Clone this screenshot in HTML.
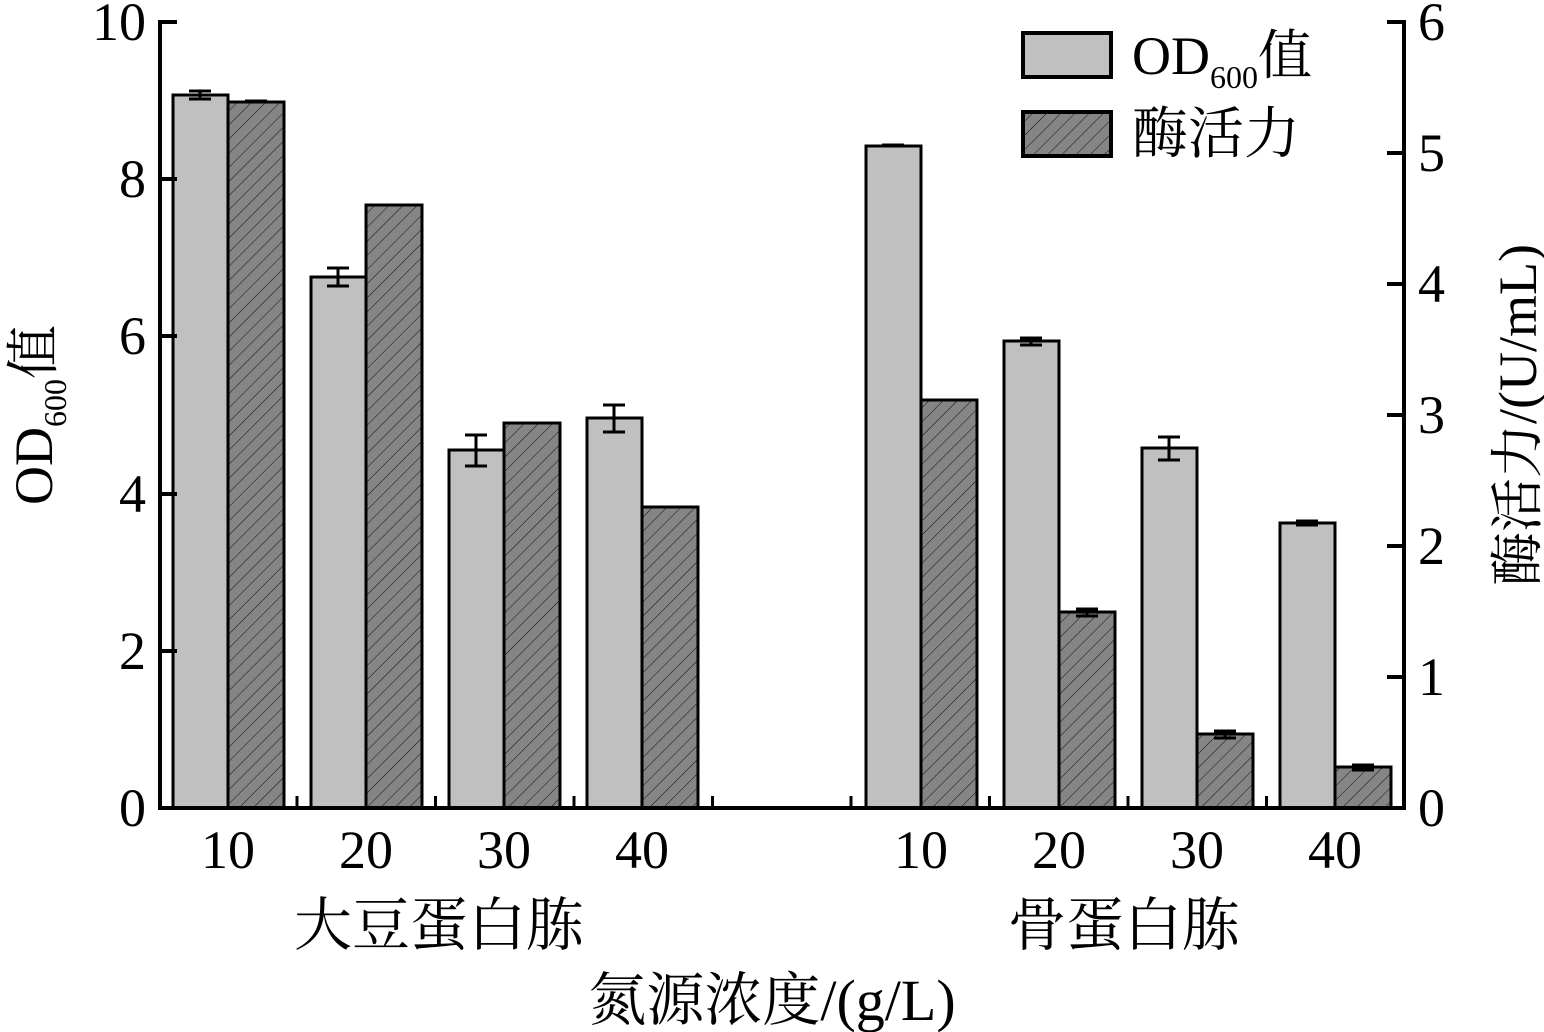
<!DOCTYPE html>
<html><head><meta charset="utf-8"><style>
html,body{margin:0;padding:0;background:#fff;}
svg{display:block;}
text{font-family:"Liberation Serif","Noto Serif CJK SC",serif;fill:#000;}
</style></head><body>
<svg width="1544" height="1032" viewBox="0 0 1544 1032" xmlns="http://www.w3.org/2000/svg">
<defs>
<pattern id="h" patternUnits="userSpaceOnUse" width="10" height="10" patternTransform="rotate(45)">
<rect width="10" height="10" fill="#858585"/>
<line x1="0" y1="0" x2="0" y2="10" stroke="#111" stroke-width="1"/>
</pattern>
</defs>
<g stroke="#000" stroke-width="3">
<rect x="173" y="95" width="55" height="713" fill="#c0c0c0"/>
<rect x="311" y="277" width="55" height="531" fill="#c0c0c0"/>
<rect x="449" y="450" width="55" height="358" fill="#c0c0c0"/>
<rect x="587" y="418" width="55" height="390" fill="#c0c0c0"/>
<rect x="866" y="146" width="55" height="662" fill="#c0c0c0"/>
<rect x="1004" y="341" width="55" height="467" fill="#c0c0c0"/>
<rect x="1142" y="448" width="55" height="360" fill="#c0c0c0"/>
<rect x="1280" y="523" width="55" height="285" fill="#c0c0c0"/>
<rect x="228" y="102" width="56" height="706" fill="url(#h)"/>
<rect x="366" y="205" width="56" height="603" fill="url(#h)"/>
<rect x="504" y="423" width="56" height="385" fill="url(#h)"/>
<rect x="642" y="507" width="56" height="301" fill="url(#h)"/>
<rect x="921" y="400" width="56" height="408" fill="url(#h)"/>
<rect x="1059" y="612" width="56" height="196" fill="url(#h)"/>
<rect x="1197" y="734" width="56" height="74" fill="url(#h)"/>
<rect x="1335" y="767" width="56" height="41" fill="url(#h)"/>
</g>
<g stroke="#000" stroke-width="3" fill="none">
<path d="M200 91v8M189 91h22M189 99h22"/>
<path d="M256 101v2M245 101h22"/>
<path d="M338 268v18M327 268h22M327 286h22"/>
<path d="M476 435v31M465 435h22M465 466h22"/>
<path d="M614 405v27M603 405h22M603 432h22"/>
<path d="M893 145v2M882 145h22"/>
<path d="M1031 338v7M1020 338h22M1020 345h22"/>
<path d="M1087 609v7M1076 609h22M1076 616h22"/>
<path d="M1169 437v23M1158 437h22M1158 460h22"/>
<path d="M1225 731v7M1214 731h22M1214 738h22"/>
<path d="M1307 521v4M1296 521h22M1296 525h22"/>
<path d="M1363 765v5M1352 765h22M1352 770h22"/>
</g>
<g stroke="#000" stroke-width="4" fill="none">
<path d="M160 20V808H1404V20"/>
<path d="M160 22h17M160 179h17M160 336h17M160 494h17M160 651h17"/>
<path d="M1404 22h-17M1404 153h-17M1404 284h-17M1404 415h-17M1404 546h-17M1404 677h-17"/>
<path d="M297 808v-12M435.5 808v-12M574 808v-12M712.5 808v-12M851 808v-12M989.5 808v-12M1128 808v-12M1266.5 808v-12" stroke-width="3"/>
</g>
<g font-size="54" text-anchor="end">
<text x="146" y="40">10</text>
<text x="146" y="197">8</text>
<text x="146" y="354">6</text>
<text x="146" y="512">4</text>
<text x="146" y="669">2</text>
<text x="146" y="826">0</text>
</g>
<g font-size="54" text-anchor="start">
<text x="1418" y="40">6</text>
<text x="1418" y="171">5</text>
<text x="1418" y="302">4</text>
<text x="1418" y="433">3</text>
<text x="1418" y="564">2</text>
<text x="1418" y="695">1</text>
<text x="1418" y="826">0</text>
</g>
<g font-size="54" text-anchor="middle">
<text x="228" y="868">10</text>
<text x="366" y="868">20</text>
<text x="504" y="868">30</text>
<text x="642" y="868">40</text>
<text x="921" y="868">10</text>
<text x="1059" y="868">20</text>
<text x="1197" y="868">30</text>
<text x="1335" y="868">40</text>
</g>
<g font-size="58" text-anchor="middle">
<text x="439" y="945">大豆蛋白胨</text>
<text x="1124" y="945">骨蛋白胨</text>
<text x="772" y="1020">氮源浓度/(g/L)</text>
</g>
<text transform="translate(52,415) rotate(-90)" font-size="54" text-anchor="middle">OD<tspan font-size="32" dy="14">600</tspan><tspan dy="-14">值</tspan></text>
<text transform="translate(1536,415) rotate(-90)" font-size="54" text-anchor="middle">酶活力/(U/mL)</text>
<rect x="1023" y="33" width="88" height="44" fill="#c0c0c0" stroke="#000" stroke-width="4"/>
<rect x="1023" y="112" width="88" height="44" fill="url(#h)" stroke="#000" stroke-width="4"/>
<text x="1132" y="74" font-size="54">OD<tspan font-size="32" dy="14">600</tspan><tspan dy="-14">值</tspan></text>
<text x="1132" y="153" font-size="56">酶活力</text>
</svg>
</body></html>
